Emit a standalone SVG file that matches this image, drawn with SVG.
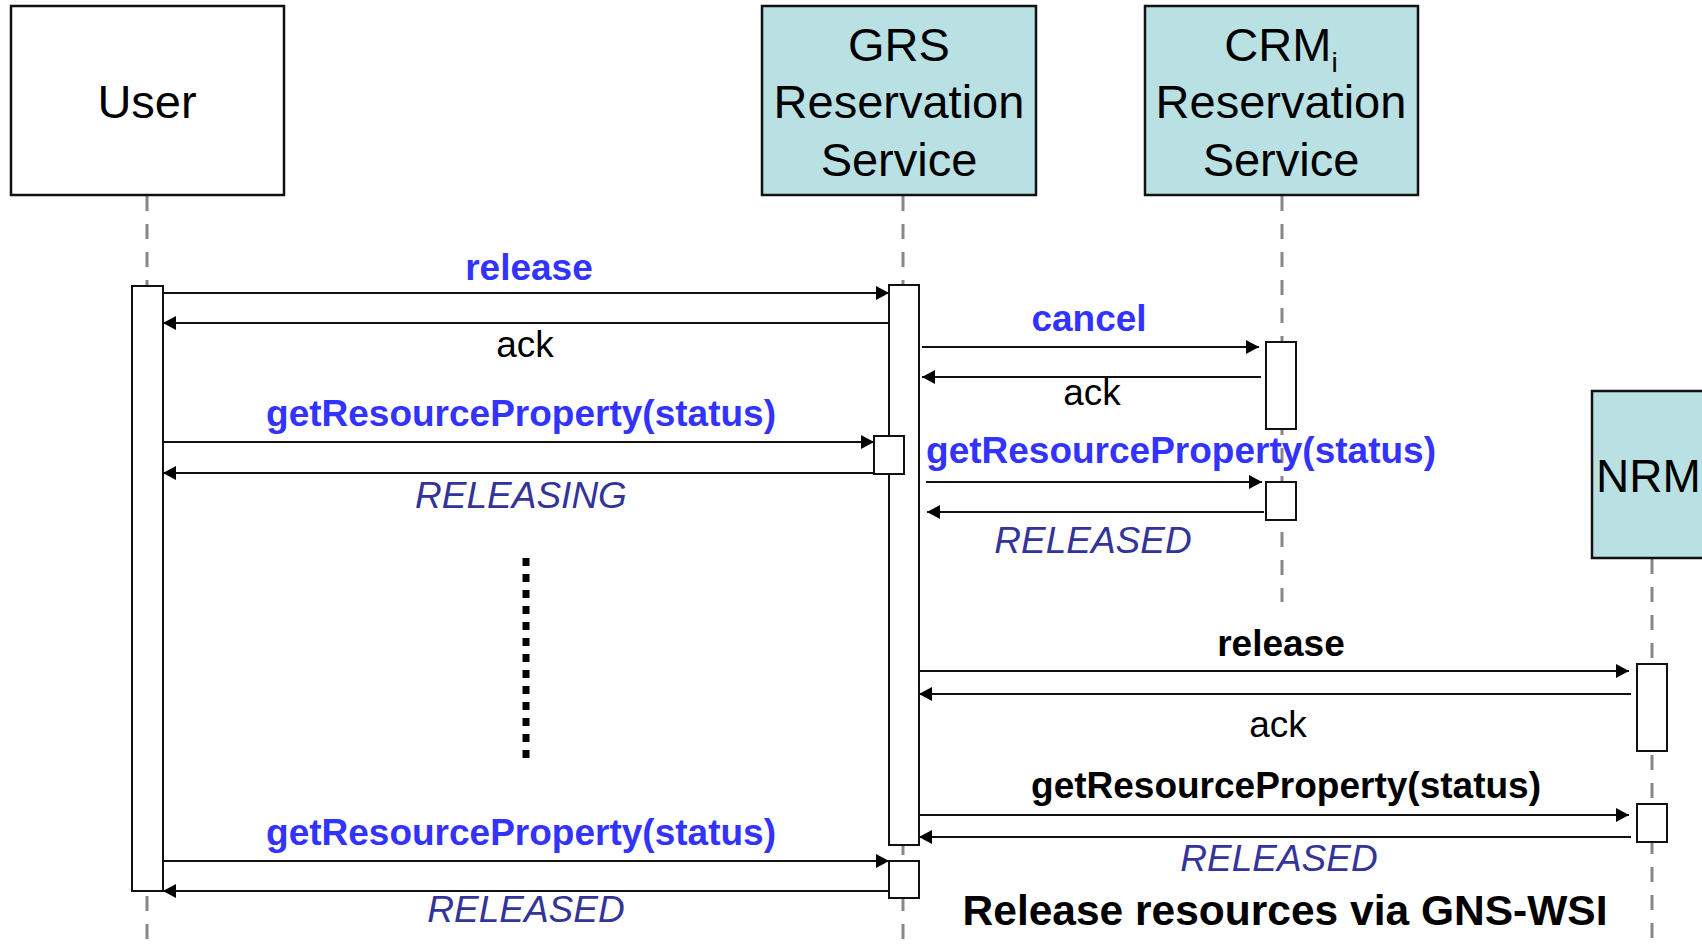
<svg xmlns="http://www.w3.org/2000/svg" width="1702" height="947" viewBox="0 0 1702 947">
<style>
.box{stroke:#111;stroke-width:2.5}
.teal{fill:#b9e0e3}
.white{fill:#fff}
.head{font-family:"Liberation Sans",Arial,sans-serif;font-size:47px;fill:#000;text-anchor:middle}
.life{stroke:#888;stroke-width:3;stroke-dasharray:15 13;fill:none}
.bar{fill:#fff;stroke:#111;stroke-width:2}
.msg{stroke:#111;stroke-width:2;fill:none}
.call{marker-end:url(#arr)}
.lbl{font-family:"Liberation Sans",Arial,sans-serif;font-size:37px;text-anchor:middle}
.blue{fill:#3333ff;font-weight:bold}
.bold{fill:#000;font-weight:bold}
.reg{fill:#000}
.ital{fill:#333399;font-style:italic}
</style>
<defs>
<marker id="arr" markerUnits="userSpaceOnUse" markerWidth="15" markerHeight="15" refX="13" refY="7" orient="auto">
<path d="M0,0 L13,7 L0,14 z" fill="#000"/>
</marker>
</defs>
<g id="lifelines">
<line class="life" x1="147" y1="196" x2="147" y2="947"/>
<line class="life" x1="903" y1="196" x2="903" y2="947"/>
<line class="life" x1="1282" y1="196" x2="1282" y2="602"/>
<line class="life" x1="1652" y1="559" x2="1652" y2="947"/>
</g>
<g id="user">
<rect class="box white" x="11" y="6" width="273" height="189"/>
<text class="head" x="147" y="118">User</text>
</g>
<g id="grs">
<rect class="box teal" x="762" y="6" width="274" height="189"/>
<text class="head" x="899" y="61">GRS</text>
<text class="head" x="899" y="118">Reservation</text>
<text class="head" x="899" y="176">Service</text>
</g>
<g id="crm">
<rect class="box teal" x="1145" y="6" width="273" height="189"/>
<text class="head" x="1281" y="61">CRM<tspan font-size="28" dy="11">i</tspan></text>
<text class="head" x="1281" y="118">Reservation</text>
<text class="head" x="1281" y="176">Service</text>
</g>
<g id="nrm">
<rect class="box teal" x="1592" y="391" width="130" height="167"/>
<text class="head" x="1596" y="492" style="text-anchor:start;font-size:46px">NRM</text>
</g>
<g id="activations">
<rect class="bar" x="132" y="286" width="31" height="605"/>
<rect class="bar" x="889" y="285" width="30" height="560"/>
<rect class="bar" x="874" y="436" width="30" height="38"/>
<rect class="bar" x="889" y="861" width="30" height="37"/>
<rect class="bar" x="1266" y="342" width="30" height="87"/>
<rect class="bar" x="1266" y="482" width="30" height="38"/>
<rect class="bar" x="1637" y="664" width="30" height="87"/>
<rect class="bar" x="1637" y="804" width="30" height="38"/>
</g>
<g id="connectors">
<line class="msg call" x1="163" y1="293" x2="889" y2="293"/>
<line class="msg call" x1="889" y1="323" x2="163" y2="323"/>
<line class="msg call" x1="922" y1="347" x2="1259" y2="347"/>
<line class="msg call" x1="1261" y1="377" x2="922" y2="377"/>
<line class="msg call" x1="163" y1="442" x2="874" y2="442"/>
<line class="msg call" x1="874" y1="473" x2="163" y2="473"/>
<line class="msg call" x1="926" y1="482" x2="1262" y2="482"/>
<line class="msg call" x1="1264" y1="512" x2="927" y2="512"/>
<line class="msg call" x1="919" y1="671" x2="1629" y2="671"/>
<line class="msg call" x1="1631" y1="694" x2="919" y2="694"/>
<line class="msg call" x1="919" y1="815" x2="1629" y2="815"/>
<line class="msg call" x1="1631" y1="837" x2="919" y2="837"/>
<line class="msg call" x1="163" y1="861" x2="889" y2="861"/>
<line class="msg call" x1="889" y1="891" x2="163" y2="891"/>
<line x1="526" y1="558" x2="526" y2="758" stroke="#000" stroke-width="7" stroke-dasharray="8 8"/>
</g>
<g id="labels">
<text class="lbl blue" x="529" y="280">release</text>
<text class="lbl reg" x="525" y="357">ack</text>
<text class="lbl blue" x="1089" y="331">cancel</text>
<text class="lbl reg" x="1092" y="405">ack</text>
<text class="lbl blue" x="521" y="426">getResourceProperty(status)</text>
<text class="lbl ital" x="521" y="508">RELEASING</text>
<text class="lbl blue" x="1181" y="463">getResourceProperty(status)</text>
<text class="lbl ital" x="1093" y="553">RELEASED</text>
<text class="lbl bold" x="1281" y="656">release</text>
<text class="lbl reg" x="1278" y="737">ack</text>
<text class="lbl bold" x="1286" y="798">getResourceProperty(status)</text>
<text class="lbl ital" x="1279" y="871">RELEASED</text>
<text class="lbl blue" x="521" y="845">getResourceProperty(status)</text>
<text class="lbl ital" x="526" y="922">RELEASED</text>
<text class="lbl bold" x="1285" y="925" style="font-size:42.5px">Release resources via GNS-WSI</text>
</g>
</svg>
